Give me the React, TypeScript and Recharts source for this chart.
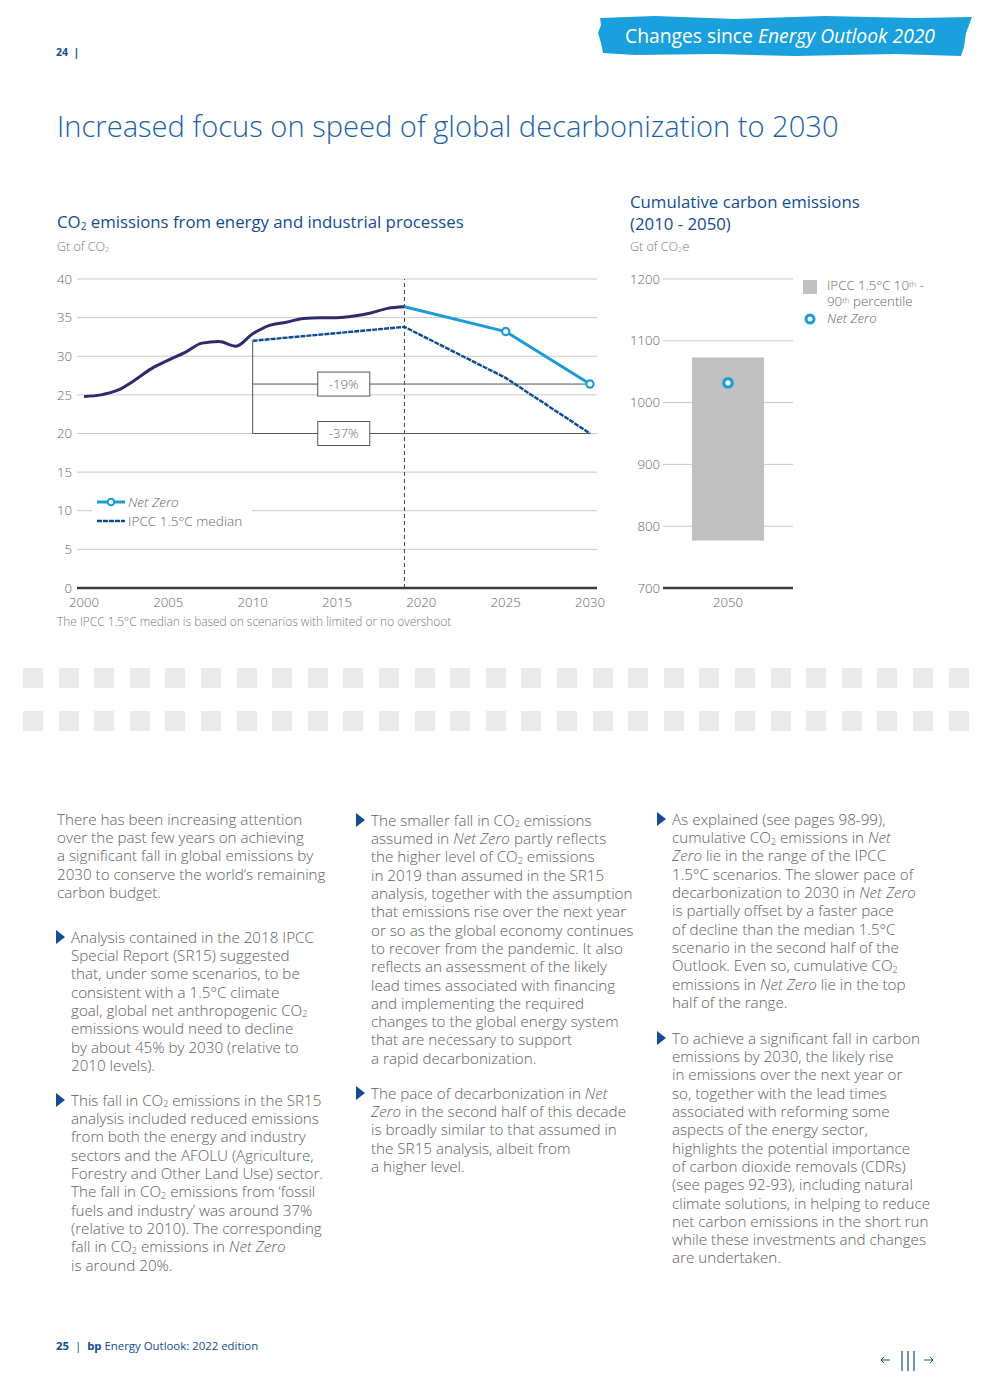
import React from "react";
import {
  LineChart,
  Line,
  ComposedChart,
  Bar,
  XAxis,
  YAxis,
  CartesianGrid,
  ReferenceLine,
  ReferenceDot,
  Legend,
} from "recharts";

// ---- data: CO2 emissions from energy and industrial processes (Gt of CO2)
const HISTORY_YEARS = [
  2000, 2001, 2002, 2003, 2004, 2005, 2006, 2007, 2008, 2009, 2010, 2011, 2012,
  2013, 2014, 2015, 2016, 2017, 2018, 2019,
];
const HISTORY_VALUES = [
  24.8, 25.0, 25.6, 26.9, 28.4, 29.5, 30.5, 31.7, 31.9, 31.3, 32.9, 34.0, 34.4,
  34.9, 35.0, 35.0, 35.2, 35.6, 36.2, 36.4,
];
const NET_ZERO_YEARS = [2019, 2025, 2030];
const NET_ZERO_VALUES = [36.4, 33.2, 26.4];
const IPCC_YEARS = [2010, 2019, 2025, 2030];
const IPCC_VALUES = [32.0, 33.8, 27.2, 20.0];
const X_TICKS = [2000, 2005, 2010, 2015, 2020, 2025, 2030];
const Y_TICKS = [0, 5, 10, 15, 20, 25, 30, 35, 40];
const LAST_ACTUAL_YEAR = 2019;

// bracket annotations
const BASE_YEAR = 2010;
const END_YEAR = 2030;
const BRACKET_TOP = 32.0;
const CHANGE_LABELS = ["-19%", "-37%"];
const CHANGE_LEVELS = [26.4, 20.0];
const LABEL_YEAR = 2015.4;

// ---- data: cumulative carbon emissions 2010-2050 (Gt of CO2e)
const CUM_CATEGORIES = ["2050"];
const CUM_IPCC_LOW = [777];
const CUM_IPCC_HIGH = [1073];
const CUM_NET_ZERO = [1032];
const CUM_TICKS = [700, 800, 900, 1000, 1100, 1200];

const NZ_COLOR = "#1d9bd7";
const IPCC_COLOR = "#0e4b8e";
const HIST_COLOR = "#2e2a6b";
const GRID = "#c9c9c9";
const AXIS = "#3c3c3c";
const TEXT_GRAY = "#666";
const DARK_BLUE = "#124c94";
const FONT = "'Open Sans', Roboto, sans-serif";

const emissionRows = (() => {
  const years = Array.from(
    new Set([...HISTORY_YEARS, ...NET_ZERO_YEARS, ...IPCC_YEARS])
  ).sort((a, b) => a - b);
  return years.map((year) => {
    const h = HISTORY_YEARS.indexOf(year);
    const n = NET_ZERO_YEARS.indexOf(year);
    const i = IPCC_YEARS.indexOf(year);
    return {
      year,
      hist: h >= 0 ? HISTORY_VALUES[h] : null,
      nz: n >= 0 ? NET_ZERO_VALUES[n] : null,
      ipcc: i >= 0 ? IPCC_VALUES[i] : null,
    };
  });
})();

const cumRows = CUM_CATEGORIES.map((name, i) => ({
  name,
  range: [CUM_IPCC_LOW[i], CUM_IPCC_HIGH[i]],
  nz: CUM_NET_ZERO[i],
}));

const Sub = ({ c }: { c: string }) => (
  <span style={{ fontSize: "0.6em", position: "relative", top: "0.15em", lineHeight: 0 }}>{c}</span>
);
const Sup = ({ c }: { c: string }) => (
  <span style={{ fontSize: "0.6em", position: "relative", top: "-0.35em", lineHeight: 0 }}>{c}</span>
);

// tiny markup: *italic*, CO_2 subscript
function rich(line: string) {
  const parts = line.split(/(\*[^*]+\*|CO_2)/);
  return parts.map((p, i) => {
    if (p === "CO_2")
      return (
        <span key={i}>
          CO<Sub c="2" />
        </span>
      );
    if (p.startsWith("*") && p.endsWith("*"))
      return (
        <i key={i} style={{ fontStyle: "italic" }}>
          {p.slice(1, -1)}
        </i>
      );
    return <span key={i}>{p}</span>;
  });
}

const LINE_H = 18.3;

function Para({ x, y, lines, bullet }: { x: number; y: number; lines: string[]; bullet?: boolean }) {
  return (
    <div style={{ position: "absolute", left: x, top: y - LINE_H / 2 }}>
      {bullet && (
        <svg
          width={10}
          height={14}
          style={{ position: "absolute", left: -15, top: 2 }}
        >
          <polygon points="0,0 9,7 0,14" fill={DARK_BLUE} />
        </svg>
      )}
      <div
        style={{
          fontSize: 15.2,
          lineHeight: `${LINE_H}px`,
          color: "#5e5e5e",
          fontWeight: 300,
          whiteSpace: "nowrap",
        }}
      >
        {lines.map((l, i) => (
          <div key={i}>{rich(l)}</div>
        ))}
      </div>
    </div>
  );
}

function ChangeBox(props: any) {
  const { cx, cy, label } = props;
  if (cx == null || cy == null) return <g />;
  return (
    <g>
      <rect x={cx - 26} y={cy - 12} width={52} height={24} fill="#fff" stroke="#555" strokeWidth={1} />
      <text x={cx} y={cy + 4.5} textAnchor="middle" fontSize={13.2} fill={TEXT_GRAY} fontFamily={FONT} fontWeight={300}>
        {label}
      </text>
    </g>
  );
}

function EmissionsLegend() {
  return (
    <div
      style={{
        background: "#fff",
        padding: "2px 0 3px 5px",
        fontSize: 13.6,
        color: TEXT_GRAY,
        lineHeight: "19px",
        fontFamily: FONT,
        fontWeight: 300,
      }}
    >
      <div style={{ display: "flex", alignItems: "center" }}>
        <svg width={28} height={10}>
          <line x1={0} y1={5} x2={28} y2={5} stroke={NZ_COLOR} strokeWidth={3} />
          <circle cx={14} cy={5} r={3.3} fill="#fff" stroke={NZ_COLOR} strokeWidth={2} />
        </svg>
        <span style={{ marginLeft: 3, fontStyle: "italic" }}>Net Zero</span>
      </div>
      <div style={{ display: "flex", alignItems: "center" }}>
        <svg width={28} height={10}>
          <line x1={0} y1={5} x2={28} y2={5} stroke={IPCC_COLOR} strokeWidth={2.4} strokeDasharray="5 1" />
        </svg>
        <span style={{ marginLeft: 3 }}>IPCC 1.5°C median</span>
      </div>
    </div>
  );
}

function CumulativeLegend() {
  return (
    <div style={{ fontSize: 13.3, color: TEXT_GRAY, fontFamily: FONT, fontWeight: 300, lineHeight: "15.5px", width: 170 }}>
      <div style={{ display: "flex" }}>
        <div style={{ width: 14, height: 14, background: "#c0c0c0", flex: "none" }} />
        <div style={{ marginLeft: 10, marginTop: -2 }}>
          IPCC 1.5°C 10<Sup c="th" /> -<br />
          90<Sup c="th" /> percentile
        </div>
      </div>
      <div style={{ display: "flex", alignItems: "center", marginTop: 2 }}>
        <svg width={14} height={14} style={{ flex: "none" }}>
          <circle cx={7} cy={7} r={4} fill="#fff" stroke={NZ_COLOR} strokeWidth={3} />
        </svg>
        <span style={{ marginLeft: 10, fontStyle: "italic" }}>Net Zero</span>
      </div>
    </div>
  );
}

const tickStyle = { fontSize: 13.2, fill: TEXT_GRAY, fontFamily: FONT, fontWeight: 300 };

function EmissionsChart() {
  return (
    <LineChart
      width={570}
      height={350}
      data={emissionRows}
      margin={{ top: 9, right: 13, bottom: 10, left: 0 }}
    >
      <CartesianGrid horizontal vertical={false} stroke={GRID} />
      <XAxis
        dataKey="year"
        type="number"
        domain={[2000, 2030]}
        ticks={X_TICKS}
        padding={{ left: 7, right: 7 }}
        tick={tickStyle}
        tickLine={false}
        tickSize={4}
        tickMargin={6}
        axisLine={{ stroke: AXIS, strokeWidth: 2.5 }}
        height={22}
      />
      <YAxis
        domain={[0, 40]}
        ticks={Y_TICKS}
        tick={tickStyle}
        tickLine={false}
        axisLine={false}
        tickSize={0}
        tickMargin={5}
        width={37}
      />
      <ReferenceLine
        x={LAST_ACTUAL_YEAR}
        stroke="#444"
        strokeDasharray="4 3"
        strokeWidth={1}
      />
      <ReferenceLine
        segment={[
          { x: BASE_YEAR, y: BRACKET_TOP },
          { x: BASE_YEAR, y: CHANGE_LEVELS[1] },
        ]}
        stroke="#555"
        strokeWidth={1}
      />
      {CHANGE_LEVELS.map((v, i) => (
        <ReferenceLine
          key={`h${i}`}
          segment={[
            { x: BASE_YEAR, y: v },
            { x: END_YEAR, y: v },
          ]}
          stroke="#555"
          strokeWidth={1}
        />
      ))}
      {CHANGE_LEVELS.map((v, i) => (
        <ReferenceDot
          key={`b${i}`}
          x={LABEL_YEAR}
          y={v}
          shape={(p: any) => <ChangeBox {...p} label={CHANGE_LABELS[i]} />}
        />
      ))}
      <Line
        dataKey="hist"
        type="monotone"
        stroke={HIST_COLOR}
        strokeWidth={3}
        dot={false}
        isAnimationActive={false}
      />
      <Line
        dataKey="ipcc"
        type="linear"
        stroke={IPCC_COLOR}
        strokeWidth={2.4}
        strokeDasharray="5 1"
        dot={false}
        connectNulls
        isAnimationActive={false}
      />
      <Line
        dataKey="nz"
        type="linear"
        stroke={NZ_COLOR}
        strokeWidth={3}
        connectNulls
        isAnimationActive={false}
        dot={(p: any) =>
          p.cy == null || p.payload.year === LAST_ACTUAL_YEAR ? (
            <g key={`nz${p.index}`} />
          ) : (
            <circle key={`nz${p.index}`} cx={p.cx} cy={p.cy} r={3.6} fill="#fff" stroke={NZ_COLOR} strokeWidth={2.2} />
          )
        }
      />
      <Legend
        layout="vertical"
        align="center"
        verticalAlign="middle"
        wrapperStyle={{ left: 52, top: 220, width: 160 }}
        content={() => <EmissionsLegend />}
      />
    </LineChart>
  );
}

function CumulativeChart() {
  return (
    <ComposedChart
      width={350}
      height={350}
      data={cumRows}
      margin={{ top: 9, right: 177, bottom: 10, left: 0 }}
    >
      <CartesianGrid horizontal vertical={false} stroke={GRID} />
      <XAxis
        dataKey="name"
        tick={tickStyle}
        tickLine={false}
        tickSize={4}
        tickMargin={6}
        axisLine={{ stroke: AXIS, strokeWidth: 2.5 }}
        height={22}
      />
      <YAxis
        domain={[700, 1200]}
        ticks={CUM_TICKS}
        tick={tickStyle}
        tickLine={false}
        axisLine={false}
        tickSize={0}
        tickMargin={3}
        width={43}
      />
      <Bar dataKey="range" fill="#c0c0c0" barSize={72} isAnimationActive={false} />
      <Line
        dataKey="nz"
        stroke="none"
        isAnimationActive={false}
        dot={(p: any) => (
          <circle key={`c${p.index}`} cx={p.cx} cy={p.cy} r={4.2} fill="#fff" stroke={NZ_COLOR} strokeWidth={3.2} />
        )}
      />
      <Legend
        layout="vertical"
        align="center"
        verticalAlign="middle"
        wrapperStyle={{ left: 183, top: 10, width: 170 }}
        content={() => <CumulativeLegend />}
      />
    </ComposedChart>
  );
}

const COL1_P1 = [
  "There has been increasing attention",
  "over the past few years on achieving",
  "a significant fall in global emissions by",
  "2030 to conserve the world’s remaining",
  "carbon budget.",
];
const COL1_P2 = [
  "Analysis contained in the 2018 IPCC",
  "Special Report (SR15) suggested",
  "that, under some scenarios, to be",
  "consistent with a 1.5°C climate",
  "goal, global net anthropogenic CO_2",
  "emissions would need to decline",
  "by about 45% by 2030 (relative to",
  "2010 levels).",
];
const COL1_P3 = [
  "This fall in CO_2 emissions in the SR15",
  "analysis included reduced emissions",
  "from both the energy and industry",
  "sectors and the AFOLU (Agriculture,",
  "Forestry and Other Land Use) sector.",
  "The fall in CO_2 emissions from ‘fossil",
  "fuels and industry’ was around 37%",
  "(relative to 2010). The corresponding",
  "fall in CO_2 emissions in *Net Zero*",
  "is around 20%.",
];
const COL2_P1 = [
  "The smaller fall in CO_2 emissions",
  "assumed in *Net Zero* partly reflects",
  "the higher level of CO_2 emissions",
  "in 2019 than assumed in the SR15",
  "analysis, together with the assumption",
  "that emissions rise over the next year",
  "or so as the global economy continues",
  "to recover from the pandemic. It also",
  "reflects an assessment of the likely",
  "lead times associated with financing",
  "and implementing the required",
  "changes to the global energy system",
  "that are necessary to support",
  "a rapid decarbonization.",
];
const COL2_P2 = [
  "The pace of decarbonization in *Net*",
  "*Zero* in the second half of this decade",
  "is broadly similar to that assumed in",
  "the SR15 analysis, albeit from",
  "a higher level.",
];
const COL3_P1 = [
  "As explained (see pages 98-99),",
  "cumulative CO_2 emissions in *Net*",
  "*Zero* lie in the range of the IPCC",
  "1.5°C scenarios. The slower pace of",
  "decarbonization to 2030 in *Net Zero*",
  "is partially offset by a faster pace",
  "of decline than the median 1.5°C",
  "scenario in the second half of the",
  "Outlook. Even so, cumulative CO_2",
  "emissions in *Net Zero* lie in the top",
  "half of the range.",
];
const COL3_P2 = [
  "To achieve a significant fall in carbon",
  "emissions by 2030, the likely rise",
  "in emissions over the next year or",
  "so, together with the lead times",
  "associated with reforming some",
  "aspects of the energy sector,",
  "highlights the potential importance",
  "of carbon dioxide removals (CDRs)",
  "(see pages 92-93), including natural",
  "climate solutions, in helping to reduce",
  "net carbon emissions in the short run",
  "while these investments and changes",
  "are undertaken.",
];

export default function App() {
  const squares = Array.from({ length: 27 }, (_, i) => 23 + i * 35.6);
  return (
    <div
      style={{
        position: "absolute",
        left: 0,
        top: 0,
        width: 992,
        height: 1398,
        background: "#fff",
        fontFamily: FONT,
        overflow: "hidden",
      }}
    >
      {/* header banner */}
      <svg width={380} height={46} style={{ position: "absolute", left: 595, top: 13 }}>
        <polygon
          points="5,5 60,3 140,6 230,3 320,5 377,4 374,12 371,20 369,34 366,43 300,41 200,43 120,41 40,42 8,40 6,30 3,20 6,12"
          fill="#1aa0dc"
        />
      </svg>
      <div
        style={{
          position: "absolute",
          left: 592,
          width: 376,
          top: 24,
          textAlign: "center",
          color: "#fff",
          fontSize: 19.3,
          lineHeight: "24px",
        }}
      >
        Changes since <i>Energy Outlook 2020</i>
      </div>

      <div style={{ position: "absolute", left: 56, top: 45, fontSize: 10.5, fontWeight: 700, color: DARK_BLUE }}>
        24&nbsp;&nbsp;|
      </div>

      <div
        style={{
          position: "absolute",
          left: 57,
          top: 108,
          fontSize: 29.1,
          lineHeight: "36px",
          fontWeight: 300,
          color: "#1b5fa9",
          whiteSpace: "nowrap",
        }}
      >
        Increased focus on speed of global decarbonization to 2030
      </div>

      {/* left chart titles */}
      <div style={{ position: "absolute", left: 57, top: 211, fontSize: 16.8, lineHeight: "21px", color: DARK_BLUE }}>
        CO<Sub c="2" /> emissions from energy and industrial processes
      </div>
      <div style={{ position: "absolute", left: 57, top: 239, fontSize: 12.5, lineHeight: "16px", color: "#777", fontWeight: 300 }}>
        Gt of CO<Sub c="2" />
      </div>

      {/* right chart titles */}
      <div style={{ position: "absolute", left: 630, top: 191, fontSize: 16.8, lineHeight: "21.5px", color: DARK_BLUE }}>
        Cumulative carbon emissions
        <br />
        (2010 - 2050)
      </div>
      <div style={{ position: "absolute", left: 630, top: 239, fontSize: 12.5, lineHeight: "16px", color: "#777", fontWeight: 300 }}>
        Gt of CO<Sub c="2" />e
      </div>

      <div style={{ position: "absolute", left: 40, top: 270 }}>
        <EmissionsChart />
      </div>
      <div style={{ position: "absolute", left: 620, top: 270 }}>
        <CumulativeChart />
      </div>

      <div style={{ position: "absolute", left: 57, top: 614, fontSize: 11.9, lineHeight: "15px", color: "#777", fontWeight: 300 }}>
        The IPCC 1.5°C median is based on scenarios with limited or no overshoot
      </div>

      {/* decorative band */}
      {[668, 711].map((top) =>
        squares.map((left) => (
          <div
            key={`${top}-${left}`}
            style={{ position: "absolute", left, top, width: 20, height: 20, background: "#ebebeb" }}
          />
        ))
      )}

      <Para x={57} y={819} lines={COL1_P1} />
      <Para x={71} y={937} lines={COL1_P2} bullet />
      <Para x={71} y={1100} lines={COL1_P3} bullet />
      <Para x={371} y={820} lines={COL2_P1} bullet />
      <Para x={371} y={1093} lines={COL2_P2} bullet />
      <Para x={672} y={819} lines={COL3_P1} bullet />
      <Para x={672} y={1038} lines={COL3_P2} bullet />

      {/* footer */}
      <div style={{ position: "absolute", left: 56, top: 1338, fontSize: 11.4, lineHeight: "15px", color: DARK_BLUE }}>
        <b>25</b>&nbsp;&nbsp;|&nbsp;&nbsp;<b>bp</b> Energy Outlook: 2022 edition
      </div>
      <svg width={60} height={24} style={{ position: "absolute", left: 878, top: 1349 }}>
        <line x1={3} y1={11} x2={12} y2={11} stroke={DARK_BLUE} strokeWidth={1} />
        <polyline points="6,8 3,11 6,14" fill="none" stroke={DARK_BLUE} strokeWidth={1} />
        <line x1={24} y1={2} x2={24} y2={22} stroke={DARK_BLUE} strokeWidth={1.2} />
        <line x1={30} y1={2} x2={30} y2={22} stroke={DARK_BLUE} strokeWidth={1.2} />
        <line x1={36} y1={2} x2={36} y2={22} stroke={DARK_BLUE} strokeWidth={1.2} />
        <line x1={46} y1={11} x2={55} y2={11} stroke={DARK_BLUE} strokeWidth={1} />
        <polyline points="52,8 55,11 52,14" fill="none" stroke={DARK_BLUE} strokeWidth={1} />
      </svg>
    </div>
  );
}
